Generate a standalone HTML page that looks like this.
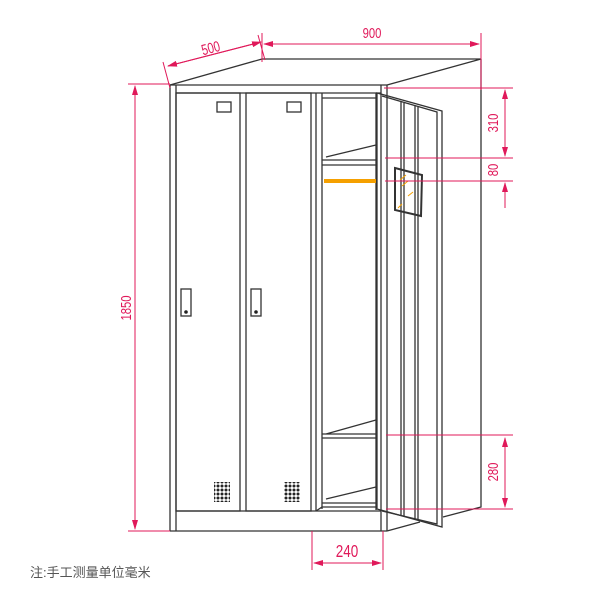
<!DOCTYPE html>
<html><head><meta charset="utf-8"><style>body{margin:0;background:#fff}</style></head><body>
<svg width="600" height="600" viewBox="0 0 600 600" xmlns="http://www.w3.org/2000/svg" font-family="Liberation Sans, Noto Sans CJK SC, sans-serif">
<defs><marker id="a" markerWidth="10" markerHeight="6" refX="9" refY="3" orient="auto" markerUnits="userSpaceOnUse"><path d="M0,0L10,3L0,6z" fill="#e0195a"/></marker>
<pattern id="d" width="4" height="4" patternUnits="userSpaceOnUse"><circle cx="2" cy="2" r="1.5" fill="#222"/></pattern></defs>
<g stroke="#333" stroke-width="1.3" fill="none">
<path d="M170,85L262,59L481,59L387,85"/>
<path d="M170,85H387M176,93H381M170,85V531M176,85V531M170,531H387M176,511H381"/>
<rect x="176" y="93" width="64" height="418"/>
<rect x="246" y="93" width="65" height="418"/>
<path d="M316,93V511M322,93V509M322,98H376M376,93V510M381,85V531M387,85V531"/>
<path d="M326,157L376,145M322,160H376M322,165H376"/>
<path d="M326,434L376,420M322,434H376M322,438H376"/>
<path d="M326,499L376,487M322,503H376M322,507H376M316,511L322,507"/>
<path d="M481,59V507L443,517M387,531L420,522"/>
<path d="M377,93L442,111V527L377,509Z"/>
<path d="M382,96L437,112V524L382,511"/>
<path d="M401,102V515M404,103V516M415,106V519M418,107V520" />
<rect x="217" y="102" width="14" height="10"/><rect x="287" y="102" width="14" height="10"/>
<rect x="181" y="289" width="10" height="27"/><rect x="251" y="289" width="10" height="27"/>
<path d="M395,168L422,175L421,216L395,210Z" stroke-width="2"/>
</g>
<g fill="#222"><circle cx="186" cy="312" r="1.8"/><circle cx="256" cy="312" r="1.8"/></g>
<rect x="214" y="482" width="16" height="20" fill="url(#d)"/>
<rect x="284" y="482" width="16" height="20" fill="url(#d)"/>
<path d="M324,181H376" stroke="#f5a000" stroke-width="4"/>
<path d="M400,180l6,-5M402,186l6,-5M408,196l5,-4M398,208l4,-4" stroke="#f5a000" stroke-width="1"/>
<g stroke="#e0195a" stroke-width="1" fill="none">
<path d="M163,62L170,88M258,35L265,60M262,33V62M481,33V90"/>
<path d="M168,66L261,42" marker-end="url(#a)"/><path d="M261,42L168,66" marker-end="url(#a)"/>
<path d="M264,44H479" marker-end="url(#a)"/><path d="M479,44H264" marker-end="url(#a)"/>
<path d="M384,88H513M385,158H513M385,181H513M386,435H513M386,509H513"/>
<path d="M505,90V156" marker-end="url(#a)"/><path d="M505,156V90" marker-end="url(#a)"/>
<path d="M505,208V183" marker-end="url(#a)"/>
<path d="M505,438V507" marker-end="url(#a)"/><path d="M505,507V438" marker-end="url(#a)"/>
<path d="M128,84H170M128,531H170"/>
<path d="M135,86V529" marker-end="url(#a)"/><path d="M135,529V86" marker-end="url(#a)"/>
<path d="M312,531V570M383,531V570"/>
<path d="M314,563H381" marker-end="url(#a)"/><path d="M381,563H314" marker-end="url(#a)"/>
</g>
<g fill="#e0195a" font-size="15">
<text transform="translate(212,53) rotate(-15) scale(0.75,1)" text-anchor="middle">500</text>
<text transform="translate(372,38) scale(0.75,1)" text-anchor="middle">900</text>
<text transform="translate(498,123) rotate(-90) scale(0.75,1)" text-anchor="middle">310</text>
<text transform="translate(498,170) rotate(-90) scale(0.75,1)" text-anchor="middle">80</text>
<text transform="translate(498,472) rotate(-90) scale(0.75,1)" text-anchor="middle">280</text>
<text transform="translate(131,308) rotate(-90) scale(0.75,1)" text-anchor="middle">1850</text>
<text transform="translate(347,557) scale(0.75,1)" text-anchor="middle" font-size="18">240</text>
</g>
<text x="30" y="577" font-size="13" fill="#555">注:手工测量单位毫米</text>
</svg>
</body></html>
